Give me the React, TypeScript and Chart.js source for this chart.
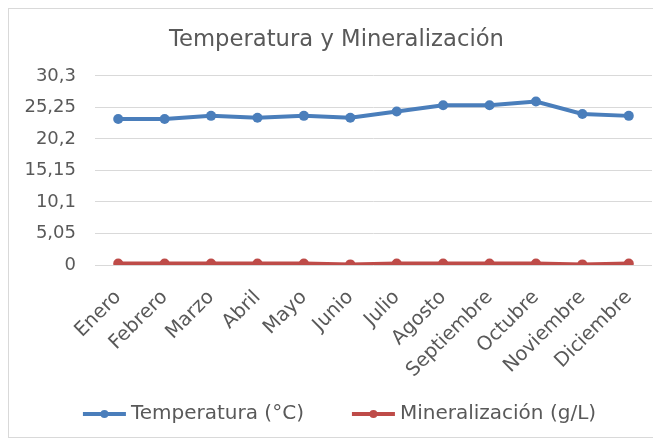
import React, { useEffect, useRef } from "react";
import { Chart, registerables } from "chart.js";

Chart.register(...registerables);

const months = ["Enero", "Febrero", "Marzo", "Abril", "Mayo", "Junio", "Julio", "Agosto", "Septiembre", "Octubre", "Noviembre", "Diciembre"];
const temperatura = [23.4, 23.4, 23.9, 23.6, 23.9, 23.6, 24.6, 25.6, 25.6, 26.2, 24.2, 23.9];
const mineralizacion = [0.25, 0.25, 0.25, 0.25, 0.25, 0.1, 0.25, 0.25, 0.25, 0.25, 0.1, 0.25];
const yTickValues = [0, 5.05, 10.1, 15.15, 20.2, 25.25, 30.3];
const yTickLabels = ["0", "5,05", "10,1", "15,15", "20,2", "25,25", "30,3"];

const BLUE = "#4a7ebb";
const RED = "#be4b48";
const FONT = "DejaVu Sans";
const GREY = "#595959";

const lineLegend = {
  id: "lineLegend",
  afterDraw(chart: any) {
    const ctx = chart.ctx as CanvasRenderingContext2D;
    ctx.save();
    ctx.font = `20px ${FONT}`;
    const lineW = 43;
    const gapTxt = 5;
    const gapItem = 48;
    const items = chart.data.datasets.map((ds: any) => ({
      text: ds.label as string,
      color: ds.borderColor as string,
      w: ctx.measureText(ds.label).width,
    }));
    const total =
      items.reduce((s: number, it: any) => s + lineW + gapTxt + it.w, 0) + gapItem * (items.length - 1);
    let x = chart.width / 2 + 5 - total / 2;
    const y = chart.height - 23;
    items.forEach((it: any) => {
      ctx.strokeStyle = it.color;
      ctx.lineWidth = 4;
      ctx.beginPath();
      ctx.moveTo(x, y);
      ctx.lineTo(x + lineW, y);
      ctx.stroke();
      ctx.fillStyle = it.color;
      ctx.beginPath();
      ctx.arc(x + lineW / 2, y, 4, 0, Math.PI * 2);
      ctx.fill();
      ctx.fillStyle = GREY;
      ctx.textAlign = "left";
      ctx.textBaseline = "middle";
      ctx.fillText(it.text, x + lineW + gapTxt, y);
      x += lineW + gapTxt + it.w + gapItem;
    });
    ctx.restore();
  },
};

export default function App() {
  const ref = useRef<HTMLCanvasElement>(null);
  useEffect(() => {
    if (!ref.current) return;
    const chart = new Chart(ref.current, {
      type: "line",
      data: {
        labels: months,
        datasets: [
          {
            label: "Temperatura (°C)",
            data: temperatura,
            borderColor: BLUE,
            backgroundColor: BLUE,
            borderWidth: 4,
            pointRadius: 5,
            pointBackgroundColor: BLUE,
            pointBorderWidth: 0,
          },
          {
            label: "Mineralización (g/L)",
            data: mineralizacion,
            borderColor: RED,
            backgroundColor: RED,
            borderWidth: 4,
            pointRadius: 5,
            pointBackgroundColor: RED,
            pointBorderWidth: 0,
          },
        ],
      },
      plugins: [lineLegend],
      options: {
        animation: false,
        responsive: false,
        maintainAspectRatio: false,
        layout: { padding: { left: 12, right: 8, top: 0, bottom: 38 } },
        plugins: {
          title: {
            display: true,
            text: "Temperatura y Mineralización",
            color: GREY,
            font: { family: FONT, size: 22.7, weight: "normal" },
            padding: { top: 17.7, bottom: 22 },
          },
          legend: { display: false },
          tooltip: { enabled: false },
        },
        scales: {
          x: {
            offset: true,
            grid: { display: false },
            border: { display: false },
            afterFit: (axis: any) => {
              axis.height = 134;
            },
            ticks: {
              color: GREY,
              font: { family: FONT, size: 19.5 },
              maxRotation: 45,
              minRotation: 45,
              autoSkip: false,
              padding: 13,
            },
          },
          y: {
            min: 0,
            max: 30.3,
            grid: { color: "#d9d9d9", lineWidth: 1, drawTicks: false },
            border: { display: false },
            afterBuildTicks: (axis: any) => {
              axis.ticks = yTickValues.map((v) => ({ value: v }));
            },
            afterFit: (axis: any) => {
              axis.width = 74;
            },
            ticks: {
              color: GREY,
              font: { family: FONT, size: 18 },
              padding: 19,
              callback: (v: any) => {
                const i = yTickValues.findIndex((t) => Math.abs(t - Number(v)) < 1e-6);
                return i >= 0 ? yTickLabels[i] : "";
              },
            },
          },
        },
      },
    });
    return () => chart.destroy();
  }, []);
  return (
    <div style={{ width: 653, height: 430, border: "1px solid #d9d9d9", boxSizing: "border-box", background: "#fff" }}>
      <canvas ref={ref} width={651} height={428} />
    </div>
  );
}
